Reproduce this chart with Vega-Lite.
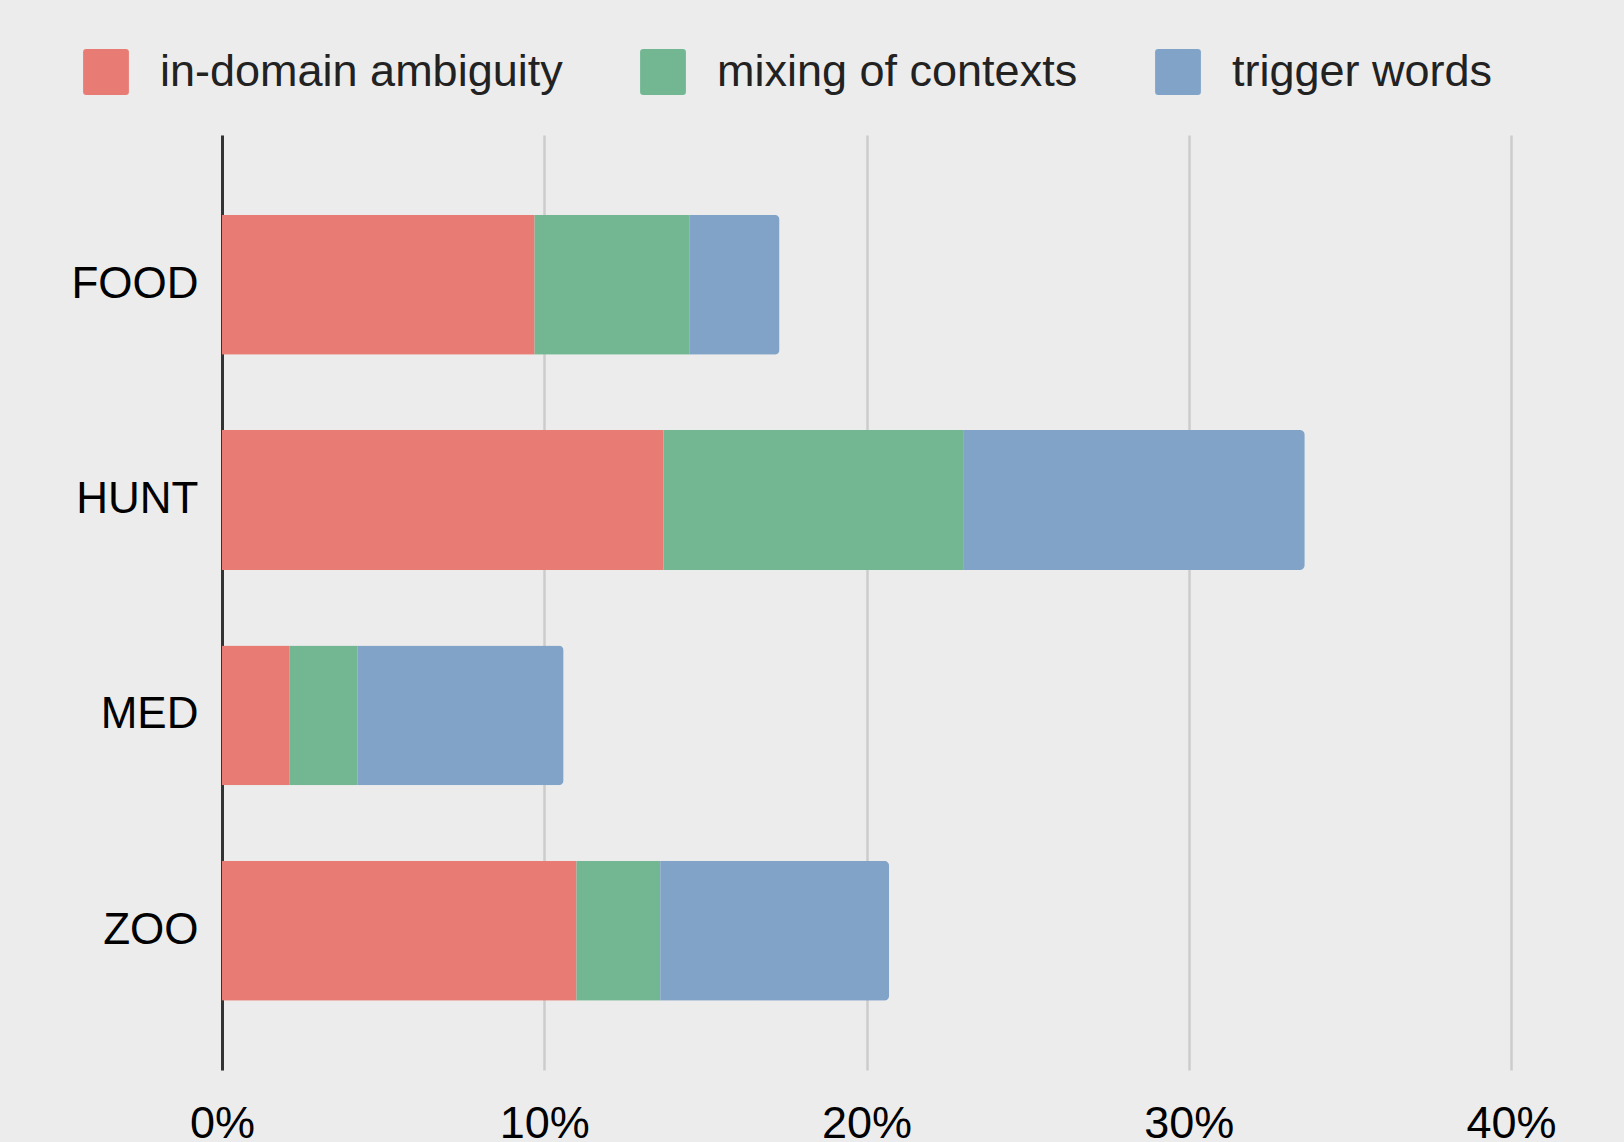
{
  "$schema": "https://vega.github.io/schema/vega-lite/v6.json",
  "width": 1289,
  "height": 935,
  "autosize": {"type": "none"},
  "padding": {"left": 222, "top": 135, "right": 113, "bottom": 72},
  "background": "#ECECEC",
  "config": {
    "view": {"stroke": null},
    "font": "Liberation Sans"
  },
  "data": {
    "values": [
      {"domain": "FOOD", "type": "in-domain ambiguity", "k": 1, "pct": 9.7},
      {"domain": "FOOD", "type": "mixing of contexts", "k": 2, "pct": 4.8},
      {"domain": "FOOD", "type": "trigger words", "k": 3, "pct": 2.8},
      {"domain": "HUNT", "type": "in-domain ambiguity", "k": 1, "pct": 13.7},
      {"domain": "HUNT", "type": "mixing of contexts", "k": 2, "pct": 9.3},
      {"domain": "HUNT", "type": "trigger words", "k": 3, "pct": 10.6},
      {"domain": "MED", "type": "in-domain ambiguity", "k": 1, "pct": 2.1},
      {"domain": "MED", "type": "mixing of contexts", "k": 2, "pct": 2.1},
      {"domain": "MED", "type": "trigger words", "k": 3, "pct": 6.4},
      {"domain": "ZOO", "type": "in-domain ambiguity", "k": 1, "pct": 11.0},
      {"domain": "ZOO", "type": "mixing of contexts", "k": 2, "pct": 2.6},
      {"domain": "ZOO", "type": "trigger words", "k": 3, "pct": 7.1}
    ]
  },
  "mark": {"type": "bar", "cornerRadiusEnd": 5},
  "encoding": {
    "y": {
      "field": "domain",
      "type": "nominal",
      "sort": ["FOOD", "HUNT", "MED", "ZOO"],
      "scale": {"paddingInner": 0.35, "paddingOuter": 0.346, "align": 0.535},
      "axis": {
        "title": null,
        "ticks": false,
        "domain": true,
        "domainColor": "#333333",
        "domainWidth": 3,
        "labelFontSize": 44,
        "labelColor": "#000000",
        "labelPadding": 24,
        "zindex": 0
      }
    },
    "x": {
      "field": "pct",
      "type": "quantitative",
      "stack": "zero",
      "scale": {"domain": [0, 40], "nice": false},
      "axis": {
        "title": null,
        "values": [0, 10, 20, 30, 40],
        "labelExpr": "datum.value + '%'",
        "domain": false,
        "ticks": false,
        "grid": true,
        "gridColor": "#CCCCCC",
        "gridWidth": 2.5,
        "labelFontSize": 45,
        "labelColor": "#000000",
        "labelPadding": 31,
        "labelFlush": false,
        "zindex": 0
      }
    },
    "color": {
      "field": "type",
      "type": "nominal",
      "scale": {
        "domain": ["in-domain ambiguity", "mixing of contexts", "trigger words"],
        "range": ["#E87C74", "#72B792", "#81A3C8"]
      },
      "legend": {
        "title": null,
        "orient": "none",
        "direction": "horizontal",
        "legendX": -139,
        "legendY": -86,
        "padding": 0,
        "symbolType": "M-0.86,-1H0.86Q1,-1 1,-0.86V0.86Q1,1 0.86,1H-0.86Q-1,1 -1,0.86V-0.86Q-1,-1 -0.86,-1Z",
        "symbolSize": 2100,
        "symbolStrokeWidth": 0,
        "symbolOpacity": 1,
        "labelFontSize": 45,
        "labelColor": "#222222",
        "labelOffset": 31,
        "columnPadding": 77,
        "labelLimit": 600
      }
    },
    "order": {"field": "k", "type": "quantitative"}
  }
}
